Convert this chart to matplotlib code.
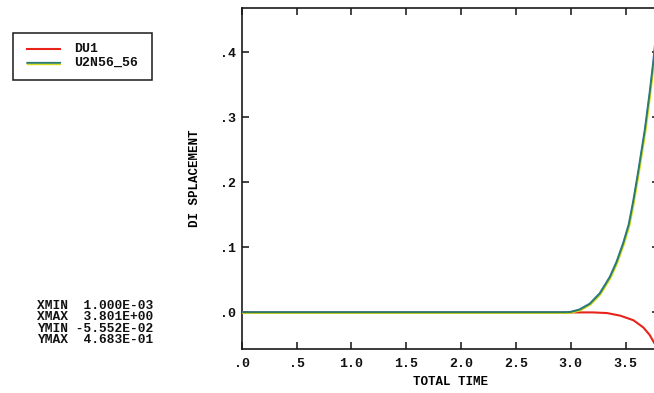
import matplotlib
matplotlib.use("Agg")
import matplotlib.pyplot as plt
import matplotlib.patheffects as pe
from matplotlib.lines import Line2D
from matplotlib.patches import Rectangle
from matplotlib.ticker import FuncFormatter

# Displacement histories vs. total time
time_u2 = [0.001, 0.5, 1.0, 1.5, 2.0, 2.5, 2.95, 3.0, 3.08, 3.175, 3.266, 3.357,
           3.418, 3.479, 3.53, 3.57, 3.615, 3.676, 3.72, 3.752, 3.78, 3.801]
u2n56_56 = [0.0, 0.0, 0.0, 0.0, 0.0, 0.0, 0.0, 0.0005, 0.004, 0.013, 0.029, 0.054,
            0.077, 0.106, 0.135, 0.170, 0.215, 0.280, 0.337, 0.383, 0.430, 0.4683]

time_du1 = [0.001, 0.5, 1.0, 1.5, 2.0, 2.5, 3.0, 3.2, 3.33, 3.45, 3.57, 3.66,
            3.72, 3.76, 3.801]
du1 = [0.0, 0.0, 0.0, 0.0, 0.0, 0.0, 0.0, 0.0, -0.001, -0.005, -0.012, -0.023,
       -0.035, -0.047, -0.05552]

x_ticks = [0.0, 0.5, 1.0, 1.5, 2.0, 2.5, 3.0, 3.5]
y_ticks = [0.0, 0.1, 0.2, 0.3, 0.4]

summary = [("XMIN", "1.000E-03"), ("XMAX", "3.801E+00"),
           ("YMIN", "-5.552E-02"), ("YMAX", "4.683E-01")]

MONO = ["Liberation Mono", "DejaVu Sans Mono"]
W, H = 654, 393

RED = "#e8231c"
GREEN = "#2e7d56"
YELLOW = "#d8dc1e"
BLUE = "#2a78b8"

fig = plt.figure(figsize=(W / 100, H / 100), dpi=100)
fig.patch.set_facecolor("white")

ax = fig.add_axes([241.7 / W, 1 - 348.5 / H, (658.7 - 241.7) / W, (348.5 - 8) / H])
ax.set_xlim(0.0, 3.801)
ax.set_ylim(-0.05552, 0.4683)

ax.plot(time_du1, du1, color=RED, lw=1.5, solid_capstyle="round", zorder=3)
ax.plot(time_u2, u2n56_56, color=GREEN, lw=1.1, zorder=4,
        path_effects=[pe.Stroke(offset=(0.6, -0.6), linewidth=1.0, foreground=YELLOW),
                      pe.Stroke(offset=(-0.4, 0.4), linewidth=0.9, foreground=BLUE),
                      pe.Normal()])

ax.set_xticks(x_ticks)
ax.set_yticks(y_ticks)


def trim(v, pos):
    s = f"{v:.1f}"
    return s[1:] if s.startswith("0") else s


ax.xaxis.set_major_formatter(FuncFormatter(trim))
ax.yaxis.set_major_formatter(FuncFormatter(trim))
ax.tick_params(direction="in", length=5, width=1.1, top=True, right=True,
               labelsize=9.5, colors="#111111")
ax.tick_params(axis="x", pad=7)
ax.tick_params(axis="y", pad=4)
for lab in ax.get_xticklabels() + ax.get_yticklabels():
    lab.set_family(MONO)
    lab.set_weight("bold")
for sp in ax.spines.values():
    sp.set_linewidth(1.2)
    sp.set_color("#1a1a1a")

ax.set_xlabel("TOTAL TIME", family=MONO, weight="bold", fontsize=9, labelpad=4)
ax.set_ylabel("DI SPLACEMENT", family=MONO, weight="bold", fontsize=9, labelpad=14)

# Legend box
fig.patches.append(Rectangle((12.7 / W, 1 - 80 / H), (151.7 - 12.7) / W, (80 - 33.3) / H,
                             transform=fig.transFigure, fill=False, lw=1.1,
                             edgecolor="#1a1a1a"))
fig.lines.append(Line2D([26.7 / W, 60 / W], [1 - 49.3 / H] * 2, transform=fig.transFigure,
                        color=RED, lw=1.5))
fig.lines.append(Line2D([26.7 / W, 60 / W], [1 - 62.7 / H] * 2, transform=fig.transFigure,
                        color=GREEN, lw=1.1,
                        path_effects=[pe.Stroke(offset=(0, -0.7), linewidth=1.0,
                                                foreground=YELLOW),
                                      pe.Stroke(offset=(0, 0.5), linewidth=0.9,
                                                foreground=BLUE),
                                      pe.Normal()]))
fig.text(74 / W, 1 - 49.3 / H, "DU1", family=MONO, weight="bold", fontsize=9.5,
         va="center", ha="left", color="#111111")
fig.text(74 / W, 1 - 62.7 / H, "U2N56_56", family=MONO, weight="bold", fontsize=9.5,
         va="center", ha="left", color="#111111")

# Range summary
for (name, val), yc in zip(summary, [306, 316.5, 329.5, 340]):
    fig.text(37 / W, 1 - yc / H, f"{name} {val:>10}", family=MONO, weight="bold",
             fontsize=9.3, va="center", ha="left", color="#111111")

fig.savefig("out.png", dpi=100, facecolor="white")
